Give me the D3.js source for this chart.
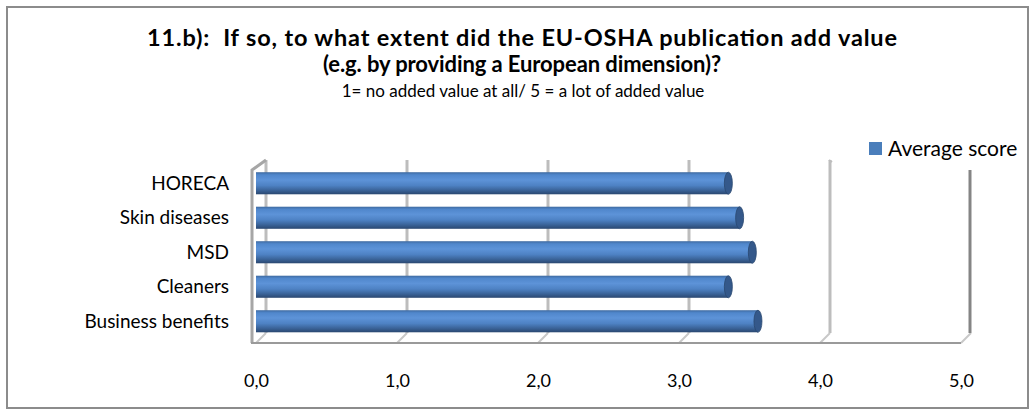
<!DOCTYPE html>
<html>
<head>
<meta charset="utf-8">
<script src="https://cdn.jsdelivr.net/npm/d3@7"></script>
<style>
  body { margin: 0; background: #fff; }
  text { font-family: Lato, "Liberation Sans", sans-serif; fill: #000; }
</style>
</head>
<body>
<div id="chart"></div>
<script>
const categories = ["HORECA", "Skin diseases", "MSD", "Cleaners", "Business benefits"];
const scores = [3.35, 3.43, 3.52, 3.35, 3.56];
const ticks = [0, 1, 2, 3, 4, 5];
const seriesName = "Average score";
const titleLines = [
  "11.b):  If so, to what extent did the EU-OSHA publication add value",
  "(e.g. by providing a European dimension)?"
];
const subtitle = "1= no added value at all/ 5 = a lot of added value";

const W = 1036, H = 416;
const depth = 10; // 3d offset of the back plane

const svg = d3.select("#chart").append("svg")
  .attr("width", W).attr("height", H);

// chart frame
svg.append("rect")
  .attr("x", 7).attr("y", 7)
  .attr("width", 1021).attr("height", 401)
  .attr("fill", "#fff")
  .attr("stroke", "#8c8c8c")
  .attr("stroke-width", 2);

// titles - the first line runs wider than the font gives, so stretch its spacing a bit
const titleWidths = [750, 398];
const titleCenters = [522, 522];
const titleSizes = [23.5, 22];
svg.selectAll(".title")
  .data(titleLines)
  .enter().append("text")
  .attr("class", "title")
  .attr("x", (d, i) => titleCenters[i])
  .attr("y", (d, i) => 46 + i * 26)
  .attr("text-anchor", "middle")
  .attr("textLength", (d, i) => titleWidths[i])
  .attr("lengthAdjust", "spacing")
  .style("white-space", "pre")
  .style("font-size", (d, i) => titleSizes[i] + "px")
  .style("font-weight", "bold")
  .text(d => d);

svg.append("text")
  .attr("x", 523).attr("y", 97)
  .attr("text-anchor", "middle")
  .style("font-size", "17px")
  .text(subtitle);

// scales (front plane)
const x = d3.scaleLinear().domain([0, 5]).range([256, 961]);
const y = d3.scaleBand()
  .domain(categories)
  .range([166, 338.5])
  .paddingInner(0.36)
  .paddingOuter(0.18);

const floorY = 343;
const topY = 160;

const defs = svg.append("defs");
const grad = defs.append("linearGradient")
  .attr("id", "cyl")
  .attr("x1", 0).attr("y1", 0).attr("x2", 0).attr("y2", 1);
[
  [0, "#3f6aa0"],
  [0.12, "#5087cc"],
  [0.35, "#5d93d8"],
  [0.6, "#4e82c4"],
  [0.82, "#3a6398"],
  [1, "#2a4770"]
].forEach(s => grad.append("stop").attr("offset", s[0]).attr("stop-color", s[1]));

const grid = svg.append("g");

// back gridlines
grid.selectAll(".gl")
  .data(ticks.slice(0, 5))
  .enter().append("line")
  .attr("x1", d => x(d) + depth).attr("x2", d => x(d) + depth)
  .attr("y1", topY)
  .attr("y2", floorY - depth)
  .attr("stroke", "#bdbdbd")
  .attr("stroke-width", 3);

// small hook at the top of the 4,0 gridline
grid.append("path")
  .attr("d", `M${x(4) + depth - 1},${topY} l3,2`)
  .attr("fill", "none")
  .attr("stroke", "#bdbdbd")
  .attr("stroke-width", 2);

// floor ticks (diagonals)
grid.selectAll(".fl")
  .data(ticks)
  .enter().append("line")
  .attr("x1", d => x(d) + depth).attr("y1", floorY - depth)
  .attr("x2", d => x(d)).attr("y2", floorY)
  .attr("stroke", "#c8c8c8")
  .attr("stroke-width", 2);

// left wall
grid.append("path")
  .attr("d", `M${x(0) - 4},${floorY} L${x(0) - 4},${topY + depth} L${x(0) + depth},${topY}`)
  .attr("fill", "none")
  .attr("stroke", "#a6a6a6")
  .attr("stroke-width", 3);

// right wall edge
grid.append("line")
  .attr("x1", x(5) + depth - 1).attr("x2", x(5) + depth - 1)
  .attr("y1", topY + depth).attr("y2", floorY - depth)
  .attr("stroke", "#858585")
  .attr("stroke-width", 3);

// floor front edge
grid.append("line")
  .attr("x1", x(0) - 5).attr("x2", x(5))
  .attr("y1", floorY).attr("y2", floorY)
  .attr("stroke", "#9a9a9a")
  .attr("stroke-width", 2);

// bars as cylinders
const bars = svg.append("g").selectAll("g")
  .data(categories)
  .enter().append("g");

bars.append("rect")
  .attr("x", x(0))
  .attr("y", d => y(d))
  .attr("width", (d, i) => x(scores[i]) - x(0))
  .attr("height", y.bandwidth())
  .attr("fill", "url(#cyl)");

bars.append("ellipse")
  .attr("cx", (d, i) => x(scores[i]))
  .attr("cy", d => y(d) + y.bandwidth() / 2)
  .attr("rx", 4)
  .attr("ry", y.bandwidth() / 2)
  .attr("fill", "#34588a")
  .attr("stroke", "#2a4770")
  .attr("stroke-width", 0.8);

// category labels
svg.append("g").selectAll("text")
  .data(categories)
  .enter().append("text")
  .attr("x", 229)
  .attr("y", d => y(d) + y.bandwidth() / 2)
  .attr("dy", "0.35em")
  .attr("text-anchor", "end")
  .style("font-size", "19px")
  .text(d => d);

// value axis
const axis = svg.append("g")
  .attr("transform", `translate(0,${floorY + 28})`)
  .call(d3.axisBottom(x).tickValues(ticks).tickSize(0)
    .tickFormat(d => d3.format(".1f")(d).replace(".", ",")));
axis.select(".domain").remove();
axis.selectAll("text")
  .style("font-family", "Lato, 'Liberation Sans', sans-serif")
  .style("font-size", "18px")
  .attr("fill", "#000");

// legend
const legend = svg.append("g").attr("transform", "translate(869,142)");
legend.append("rect")
  .attr("width", 13).attr("height", 13)
  .attr("fill", "#4a7ebb");
legend.append("text")
  .attr("x", 19).attr("y", 7)
  .attr("dy", "0.35em")
  .style("font-size", "21px")
  .text(seriesName);
</script>
</body>
</html>
